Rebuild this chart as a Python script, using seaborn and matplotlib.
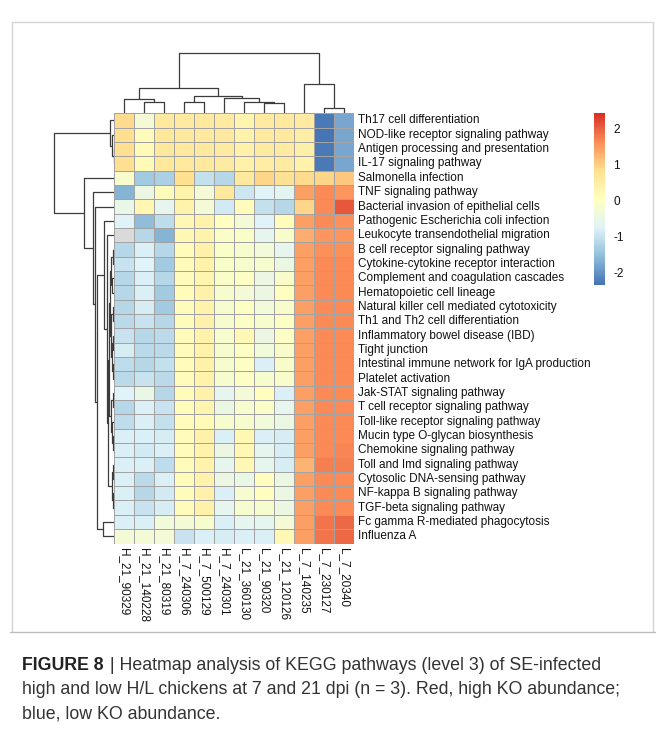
import numpy as np
import pandas as pd
import matplotlib
matplotlib.use("Agg")
import matplotlib.pyplot as plt
import seaborn as sns
from matplotlib.colors import LinearSegmentedColormap

samples = ["H_21_90329", "H_21_140228", "H_21_80319", "H_7_240306", "H_7_500129",
           "H_7_240301", "L_21_360130", "L_21_90320", "L_21_120126", "L_7_140235",
           "L_7_230127", "L_7_20340"]

pathways = ["Th17 cell differentiation", "NOD-like receptor signaling pathway",
            "Antigen processing and presentation", "IL-17 signaling pathway",
            "Salmonella infection", "TNF signaling pathway",
            "Bacterial invasion of epithelial cells", "Pathogenic Escherichia coli infection",
            "Leukocyte transendothelial migration", "B cell receptor signaling pathway",
            "Cytokine-cytokine receptor interaction", "Complement and coagulation cascades",
            "Hematopoietic cell lineage", "Natural killer cell mediated cytotoxicity",
            "Th1 and Th2 cell differentiation", "Inflammatory bowel disease (IBD)",
            "Tight junction", "Intestinal immune network for IgA production",
            "Platelet activation", "Jak-STAT signaling pathway",
            "T cell receptor signaling pathway", "Toll-like receptor signaling pathway",
            "Mucin type O-glycan biosynthesis", "Chemokine signaling pathway",
            "Toll and Imd signaling pathway", "Cytosolic DNA-sensing pathway",
            "NF-kappa B signaling pathway", "TGF-beta signaling pathway",
            "Fc gamma R-mediated phagocytosis", "Influenza A"]

# row-scaled abundance (z-scores); NaN = missing
zscores = [
    [0.85, -0.30, 0.60, 0.55, 0.60, 0.55, 0.30, 0.55, 0.60, 0.55, -2.30, -1.80],
    [0.80, 0.10, 0.65, 0.60, 0.60, 0.60, 0.35, 0.55, 0.60, 0.50, -2.36, -1.80],
    [0.80, 0.15, 0.65, 0.60, 0.60, 0.55, 0.40, 0.55, 0.55, 0.45, -2.30, -1.80],
    [0.80, 0.15, 0.65, 0.60, 0.60, 0.55, 0.40, 0.50, 0.55, 0.35, -2.30, -1.80],
    [-0.20, -1.40, -1.30, 0.80, -1.05, -1.20, 0.60, 0.90, 0.75, 0.85, 0.90, 1.05],
    [-1.65, -0.45, 0.10, 0.35, -0.30, 0.60, -0.95, -0.75, -0.65, 1.45, 1.62, 1.55],
    [-0.50, 0.25, -0.60, 0.35, -0.30, -0.90, 0.10, -1.05, -1.20, 0.90, 1.62, 2.05],
    [-0.75, -1.55, -1.10, 0.20, 0.35, 0.00, -0.30, -0.77, 0.10, 1.45, 1.62, 1.60],
    [np.nan, -1.20, -1.65, 0.20, 0.35, -0.10, -0.10, -0.60, -0.15, 1.30, 1.55, 1.55],
    [-1.20, -0.80, -1.20, 0.10, 0.40, -0.10, -0.20, -0.35, -0.60, 1.45, 1.60, 1.60],
    [-1.00, -0.75, -1.40, 0.10, 0.35, -0.15, -0.20, -0.20, -0.45, 1.45, 1.62, 1.62],
    [-1.20, -0.80, -1.20, 0.10, 0.30, -0.10, -0.05, -0.45, -0.15, 1.45, 1.62, 1.62],
    [-1.20, -0.80, -1.40, 0.10, 0.40, -0.20, -0.30, -0.45, 0.05, 1.45, 1.62, 1.62],
    [-1.20, -0.85, -1.40, 0.10, 0.35, -0.20, -0.05, -0.35, -0.15, 1.45, 1.62, 1.62],
    [-1.15, -1.00, -1.20, 0.10, 0.40, -0.20, -0.05, -0.20, -0.05, 1.45, 1.62, 1.62],
    [-1.00, -1.20, -1.15, 0.10, 0.35, -0.20, 0.20, -0.45, -0.05, 1.45, 1.62, 1.62],
    [-0.85, -1.15, -1.15, 0.10, 0.35, -0.20, -0.05, -0.35, -0.15, 1.45, 1.62, 1.62],
    [-1.10, -1.20, -1.05, 0.10, 0.40, -0.20, -0.05, -0.80, -0.15, 1.45, 1.62, 1.62],
    [-1.15, -1.00, -1.15, 0.10, 0.35, -0.20, -0.05, -0.20, -0.15, 1.45, 1.62, 1.62],
    [-0.75, -0.50, -1.20, 0.10, 0.40, -0.60, -0.30, 0.05, -0.80, 1.45, 1.62, 1.62],
    [-1.20, -0.80, -1.00, 0.10, 0.30, -0.45, -0.20, -0.10, -0.60, 1.45, 1.62, 1.62],
    [-1.10, -0.80, -1.05, 0.10, 0.15, -0.20, -0.20, -0.35, -0.45, 1.45, 1.62, 1.62],
    [-0.80, -0.80, -0.85, 0.10, 0.40, -0.80, 0.20, -0.80, -0.85, 1.45, 1.62, 1.62],
    [-0.80, -0.90, -0.80, 0.10, 0.35, -0.45, 0.20, -0.60, -0.85, 1.45, 1.62, 1.70],
    [-0.80, -0.80, -1.10, 0.10, 0.35, -0.60, 0.20, -0.60, -0.85, 1.25, 1.75, 1.75],
    [-0.80, -1.15, -0.80, 0.10, 0.35, -0.45, -0.50, 0.05, -0.45, 1.45, 1.62, 1.62],
    [-0.80, -1.20, -0.90, 0.10, 0.40, -0.80, -0.20, 0.05, -0.45, 1.45, 1.62, 1.62],
    [-0.80, -1.00, -0.85, 0.10, 0.40, -0.60, -0.20, -0.20, -0.45, 1.45, 1.62, 1.62],
    [-0.80, -0.80, -0.35, -0.30, -0.20, -0.80, -0.60, -0.60, -0.30, 1.45, 1.80, 1.90],
    [-0.30, -0.30, -0.30, -1.00, -0.80, -0.85, -0.80, -0.80, 0.20, 1.45, 1.80, 1.90],
]

# hierarchical clustering trees: (left, right, merge height); ints are leaf indices
col_tree = (((0, (1, 2, 11.7), 14.3),
             ((3, 4, 11.7), (5, (6, (7, 8, 10.0), 11.7), 15.7), 17.7), 25.0),
            (9, (10, 11, 5.7), 29.0), 60.0)

row_top = (0, (1, (2, 3, 0.8), 2.0), 4.3)
row_ca = (((9, 10, 1.6), (11, 12, 2.0), 3.2),
          ((13, 14, 1.4), ((15, 16, 1.5), (17, 18, 1.2), 2.4), 3.6), 4.8)
row_cb = ((19, 20, 1.8), (21, (22, 23, 1.6), 2.3), 3.4)
row_cs = ((24, 25, 1.6), (26, 27, 1.3), 2.6)
row_c = ((row_ca, row_cb, 5.6), row_cs, 6.3)
row_a = (7, (8, row_c, 7.3), 10.3)
row_rest = (4, (5, (6, (row_a, (28, 29, 11.6), 17.3), 19.3), 21.0), 30.3)
row_tree = (row_top, row_rest, 60.0)

palette = ["#4575B4", "#91BFDB", "#E0F3F8", "#FFFFBF", "#FEE090", "#FC8D59", "#D73027"]
VMIN, VMAX = -2.36, 2.42

sns.set_theme(style="white")
plt.rcParams["font.family"] = ["Liberation Sans", "DejaVu Sans"]
plt.rcParams["axes.unicode_minus"] = False

W, H = 665, 740
fig = plt.figure(figsize=(W / 100, H / 100), dpi=100)


def px_axes(x0, y0, x1, y1):
    return fig.add_axes([x0 / W, 1 - y1 / H, (x1 - x0) / W, (y1 - y0) / H])


def draw_tree(ax, tree, orient, color="#3c3c3c", lw=0.9):
    def walk(node):
        if isinstance(node, int):
            return node + 0.5, 0.0
        left, right, h = node
        pa, ha = walk(left)
        pb, hb = walk(right)
        if orient == "top":
            ax.plot([pa, pa, pb, pb], [ha, h, h, hb], color=color, lw=lw,
                    solid_capstyle="butt")
        else:
            ax.plot([ha, h, h, hb], [pa, pa, pb, pb], color=color, lw=lw,
                    solid_capstyle="butt")
        return (pa + pb) / 2, h
    walk(tree)


df = pd.DataFrame(zscores, index=pathways, columns=samples)
cmap = LinearSegmentedColormap.from_list("rdylbu_r", palette, N=100)

label_size = 8.5
hm_ax = px_axes(114.3, 113.3, 354.3, 543.5)
hm_ax.set_facecolor("#dadada")
cb_ax = px_axes(594, 113, 605, 285)
sns.heatmap(df, ax=hm_ax, cmap=cmap, vmin=VMIN, vmax=VMAX, linewidths=0.7,
            linecolor="#a3a3a3", cbar_ax=cb_ax,
            cbar_kws={"ticks": [-2, -1, 0, 1, 2]})

hm_ax.yaxis.tick_right()
hm_ax.set_yticks(np.arange(len(pathways)) + 0.5)
hm_ax.set_yticklabels(pathways, rotation=0, ha="left", va="center",
                      fontsize=label_size, color="#111111")
hm_ax.set_xticks(np.arange(len(samples)) + 0.5)
hm_ax.set_xticklabels(samples, rotation=270, ha="center", va="top",
                      fontsize=label_size, color="#111111")
hm_ax.tick_params(axis="both", length=0, pad=3)
hm_ax.set_xlabel("")
hm_ax.set_ylabel("")

cbar = hm_ax.collections[0].colorbar
cbar.outline.set_visible(False)
cbar.ax.tick_params(length=0, labelsize=label_size, pad=6, labelcolor="#111111")

# column dendrogram
cd_ax = px_axes(114.3, 50, 354.3, 113.3)
draw_tree(cd_ax, col_tree, "top")
cd_ax.set_xlim(0, len(samples))
cd_ax.set_ylim(0, 63.3)
cd_ax.axis("off")

# row dendrogram
rd_ax = px_axes(50, 113.3, 114.3, 543.5)
draw_tree(rd_ax, row_tree, "left")
rd_ax.set_ylim(len(pathways), 0)
rd_ax.set_xlim(64.3, 0)
rd_ax.axis("off")

# figure frame and caption
frame = fig.add_axes([0, 0, 1, 1], zorder=-1)
frame.set_xlim(0, W)
frame.set_ylim(H, 0)
frame.axis("off")
frame.plot([12, 12, 653, 653], [632, 22, 22, 632], color="#d4d4d4", lw=1.0)
frame.plot([10, 655], [632, 632], color="#bdbdbd", lw=1.0)

cap_size = 12.8
t0 = fig.text(22 / W, 1 - 666 / H, "FIGURE 8", fontsize=cap_size, fontweight="bold",
              color="#222222", va="center", ha="left")
fig.canvas.draw()
bb = t0.get_window_extent()
fig.text(bb.x1 / W + 0.002, 1 - 666 / H,
         " | Heatmap analysis of KEGG pathways (level 3) of SE-infected",
         fontsize=cap_size, color="#333333", va="center", ha="left")
fig.text(22 / W, 1 - 690 / H,
         "high and low H/L chickens at 7 and 21 dpi (n = 3). Red, high KO abundance;",
         fontsize=cap_size, color="#333333", va="center", ha="left")
fig.text(22 / W, 1 - 714 / H, "blue, low KO abundance.",
         fontsize=cap_size, color="#333333", va="center", ha="left")

fig.savefig("out.png", dpi=100)
